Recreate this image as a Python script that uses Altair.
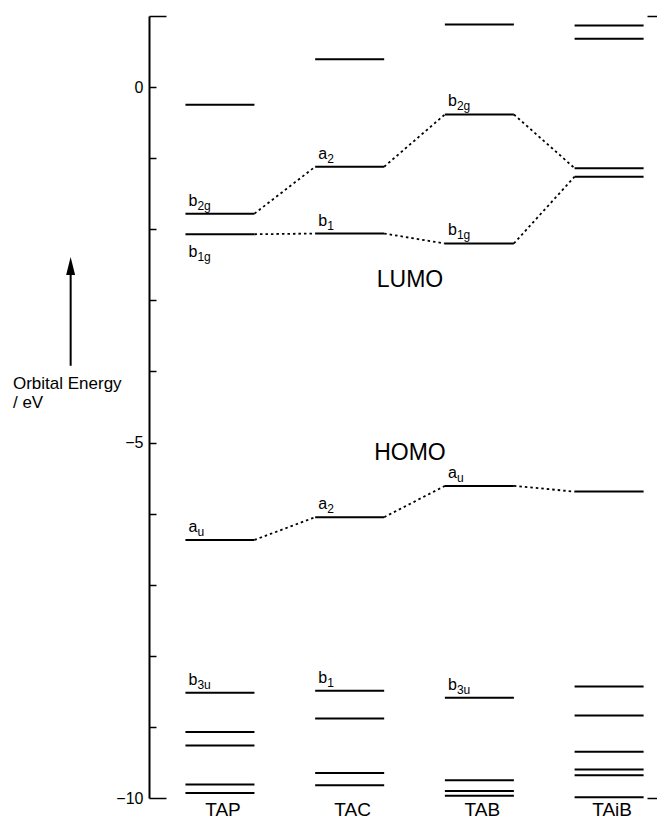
import altair as alt
import pandas as pd

FONT = "Liberation Sans"

molecules = ["TAP", "TAC", "TAB", "TAiB"]

tap_levels = [-0.25, -1.78, -2.07, -6.37, -8.52, -9.07, -9.26, -9.81, -9.93]
tac_levels = [0.39, -1.12, -2.06, -6.05, -8.49, -8.88, -9.65, -9.82]
tab_levels = [0.88, -0.385, -2.20, -5.61, -8.59, -9.75, -9.90, -9.97]
taib_levels = [0.866, 0.68, -1.14, -1.26, -5.69, -8.43, -8.84, -9.35, -9.60, -9.68, -9.99]

upper_chain = [-1.78, -1.12, -0.385, -1.14]
lower_chain = [-2.07, -2.06, -2.20, -1.26]
homo_chain = [-6.37, -6.05, -5.61, -5.69]

label_mol = ["TAP", "TAP", "TAC", "TAC", "TAB", "TAB", "TAP", "TAC", "TAB", "TAP", "TAC", "TAB"]
label_energy = [-1.78, -2.07, -1.12, -2.06, -0.385, -2.20, -6.37, -6.05, -5.61, -8.52, -8.49, -8.59]
label_main = ["b", "b", "a", "b", "b", "b", "a", "a", "a", "b", "b", "b"]
label_sub = ["2g", "1g", "2", "1", "2g", "1g", "u", "2", "u", "3u", "1", "3u"]
label_side = ["above", "below", "above", "above", "above", "above",
              "above", "above", "above", "above", "above", "above"]

region_text = ["LUMO", "HOMO"]
region_x = [1.465, 1.465]
region_y = [-2.81, -5.24]

axis_label_values = [0, -5, -10]
minor_tick_values = [0, -1, -2, -3, -4, -5, -6, -7, -8, -9]
end_tick_values = [1, -10]

arrow_x = [-1.151]
arrow_tail = [-3.92]
arrow_neck = [-2.6]
arrow_head = [-2.515]
ylabel_x = [-1.596]
ylabel_y = [-4.24]
ylabel_text = [["Orbital Energy", "/ eV"]]

HALF = 0.266
PLOT_W = 508
xscale = alt.Scale(domain=[-0.547, (PLOT_W - 71) / 129.7], nice=False, zero=False)
yscale = alt.Scale(domain=[-10, 1], nice=False, zero=False)

# ----- data tables -----
all_levels = [tap_levels, tac_levels, tab_levels, taib_levels]
rows = []
for i, lv in enumerate(all_levels):
    for e in lv:
        rows.append({"idx": i, "energy": e, "left": i - HALF, "right": i + HALF})
levels_df = pd.DataFrame(rows)

seg_rows = []
for cname, chain in [("up", upper_chain), ("low", lower_chain), ("homo", homo_chain)]:
    for i in range(len(chain) - 1):
        seg = f"{cname}{i}"
        seg_rows.append({"seg": seg, "o": 0, "x": i + HALF, "energy": chain[i]})
        seg_rows.append({"seg": seg, "o": 1, "x": i + 1 - HALF, "energy": chain[i + 1]})
seg_df = pd.DataFrame(seg_rows)

lab_df = pd.DataFrame({
    "x": [molecules.index(m) - HALF for m in label_mol],
    "energy": label_energy,
    "main": label_main,
    "sub": label_sub,
    "side": label_side,
})
above_df = lab_df[lab_df.side == "above"]
below_df = lab_df[lab_df.side == "below"]

cat_df = pd.DataFrame({"name": molecules, "idx": list(range(len(molecules))),
                       "energy": [-10] * len(molecules)})

X = lambda f: alt.X(f, type="quantitative", scale=xscale, axis=None)
Y = lambda f: alt.Y(f, type="quantitative", scale=yscale, axis=None)

# ----- levels (carry the main left axis) -----
levels = alt.Chart(levels_df).mark_rule(color="black", strokeWidth=2).encode(
    x=X("left"),
    x2="right:Q",
    y=alt.Y("energy:Q", scale=yscale,
            axis=alt.Axis(orient="left", values=axis_label_values, ticks=False, tickSize=0,
                          domain=True, domainColor="black", domainWidth=2, grid=False,
                          title=None, labelFont=FONT, labelFontSize=16, labelColor="black",
                          labelPadding=6)),
)

connectors = alt.Chart(seg_df).mark_line(color="black", strokeWidth=1.8,
                                          strokeDash=[2.5, 3]).encode(
    x=X("x"), y=Y("energy"), detail="seg:N", order="o:Q"
)

def text_layer(df, field, dx, dy, size):
    return alt.Chart(df).mark_text(align="left", baseline="alphabetic", dx=dx, dy=dy,
                                   font=FONT, fontSize=size, color="black").encode(
        x=X("x"), y=Y("energy"), text=f"{field}:N")

lab_layers = [
    text_layer(above_df, "main", 3, -8, 16),
    text_layer(above_df, "sub", 12, -4, 12),
    text_layer(below_df, "main", 3, 23, 16),
    text_layer(below_df, "sub", 12, 27, 12),
]

categories = alt.Chart(cat_df).mark_text(
    align="center", baseline="alphabetic", dx=3, dy=18, font=FONT, fontSize=19, color="black"
).encode(x=X("idx"), y=Y("energy"), text="name:N")

regions = alt.Chart(pd.DataFrame({"t": region_text, "x": region_x, "energy": region_y})).mark_text(
    align="center", baseline="alphabetic", font=FONT, fontSize=23, color="black"
).encode(x=X("x"), y=Y("energy"), text="t:N")

arrow_df = pd.DataFrame({"x": arrow_x, "tail": arrow_tail, "neck": arrow_neck, "head": arrow_head})
arrow_shaft = alt.Chart(arrow_df).mark_rule(color="black", strokeWidth=2).encode(
    x=X("x"), y=Y("tail"), y2="neck:Q")
arrow_tip = alt.Chart(arrow_df).mark_point(shape="M0,-1L-0.5,1L0.5,1Z", filled=True,
                                           color="black", opacity=1, size=324).encode(
    x=X("x"), y=Y("head"))

ylabel = alt.Chart(pd.DataFrame({"x": ylabel_x, "energy": ylabel_y, "t": ylabel_text})).mark_text(
    align="left", baseline="alphabetic", font=FONT, fontSize=17, lineHeight=19, color="black"
).encode(x=X("x"), y=Y("energy"), text="t")

# ----- extra axes for inward-pointing ticks -----
def tick_axis_layer(values, orient, size):
    return alt.Chart(pd.DataFrame({"v": values})).mark_point(opacity=0).encode(
        y=alt.Y("v:Q", scale=yscale,
                axis=alt.Axis(orient=orient, values=values, offset=-size, tickSize=size,
                              ticks=True, tickColor="black", tickWidth=1.5, domain=False,
                              labels=False, grid=False, title=None)))

minor_ticks = tick_axis_layer(minor_tick_values, "left", 7)
end_ticks = tick_axis_layer(end_tick_values, "left", 17)
right_ticks = tick_axis_layer(end_tick_values, "right", 10)

chart = alt.layer(
    levels, connectors, *lab_layers, categories, regions, arrow_shaft, arrow_tip, ylabel,
    minor_ticks, end_ticks, right_ticks,
).resolve_axis(y="independent").properties(
    width=PLOT_W, height=782,
    padding={"left": 141, "top": 8, "right": 0, "bottom": 24},
    autosize=alt.AutoSizeParams(type="none"),
).configure_view(stroke=None)

chart.save("out.html", embed_options={"renderer": "svg", "actions": False})
